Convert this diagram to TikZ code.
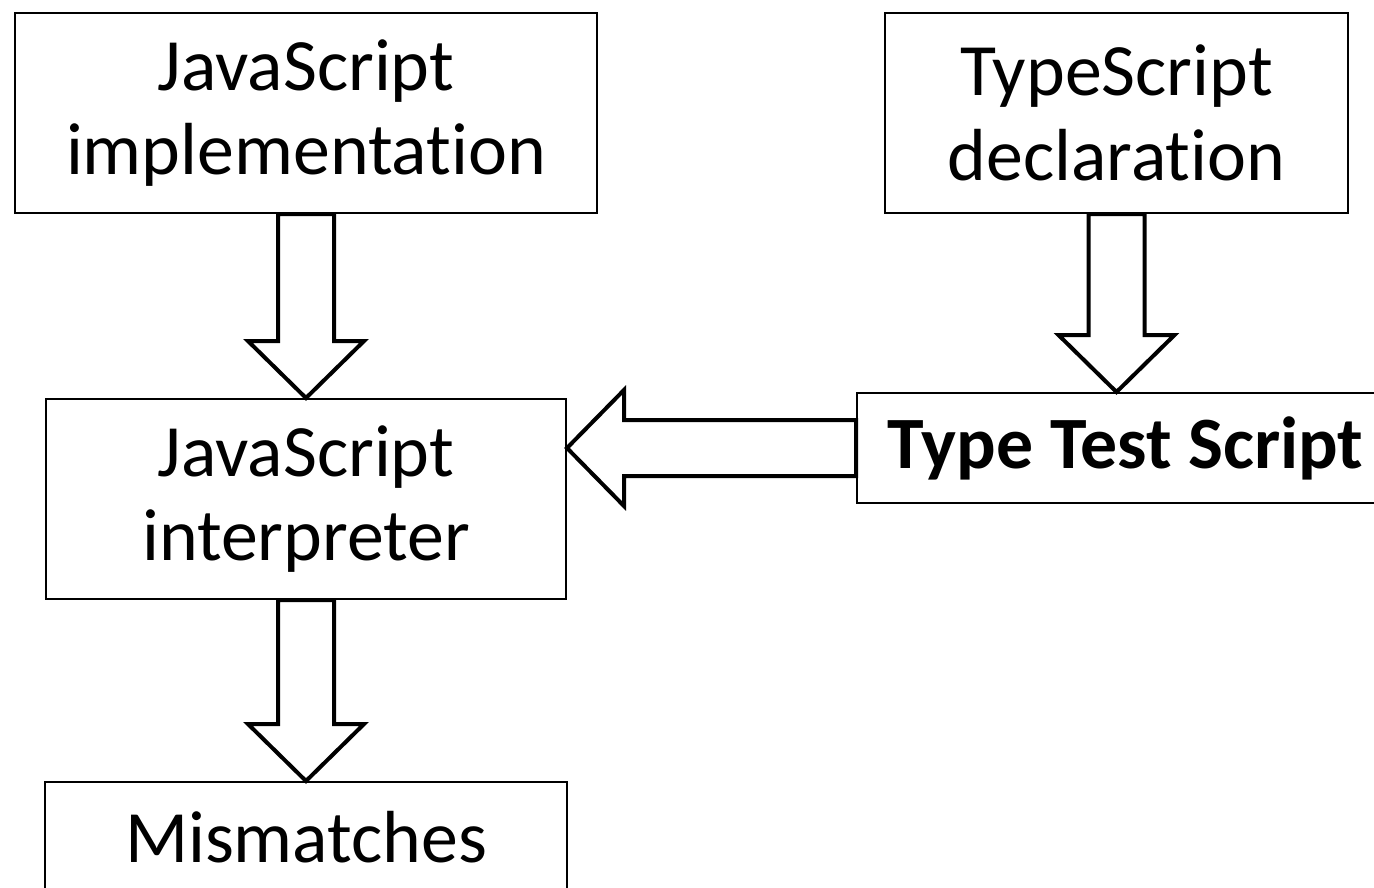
\documentclass[tikz,border=0pt]{standalone}
\usepackage{fontspec}
\setmainfont{Carlito}[Ligatures=NoCommon]
\usetikzlibrary{positioning,calc}
\begin{document}
\begin{tikzpicture}[every node/.style={inner sep=1pt}]
\tikzstyle{box}=[draw,line width=0.04cm,align=center,font=\fontsize{42}{48}\selectfont,minimum height=4cm]
\tikzstyle{bigarrow}=[draw,line width=0.08cm,fill=white,to path={
  ($(\tikztostart)!0.56cm!90:(\tikztotarget)$)
  -- ($($(\tikztotarget)!1.14cm!(\tikztostart)$)!0.56cm!-90:(\tikztostart)$)
  -- ($($(\tikztotarget)!1.14cm!(\tikztostart)$)!1.16cm!-90:(\tikztostart)$)
  -- (\tikztotarget)
  -- ($($(\tikztotarget)!1.14cm!(\tikztostart)$)!1.16cm!90:(\tikztostart)$)
  -- ($($(\tikztotarget)!1.14cm!(\tikztostart)$)!0.56cm!90:(\tikztostart)$)
  -- ($(\tikztostart)!0.56cm!-90:(\tikztotarget)$) -- cycle}]
\useasboundingbox (0,0) rectangle (27.48,-17.74);
\clip (0,0) rectangle (27.48,-17.74);

\node[box,minimum width=11.64cm](impl) at (6.12,-2.26){JavaScript\\implementation};
\node[box,minimum width=9.26cm,right=5.72cm of impl](decl){TypeScript\\declaration};

\node[box,minimum width=10.4cm,below=3.68cm of impl](interp){JavaScript\\interpreter};
\node[box,minimum width=10.74cm,minimum height=2.2cm,below=3.56cm of decl,xshift=0.18cm,
  font=\fontsize{42}{48}\selectfont\bfseries](tts){Type Test Script};

\node[box,minimum width=10.44cm,minimum height=2.2cm,below=3.62cm of interp](mism){Mismatches};

\draw[bigarrow](impl.south) to (interp.north);
\draw[bigarrow](decl.south) to (decl.south|-tts.north);
\draw[bigarrow](tts.west) to (interp.east|-tts.west);
\draw[bigarrow](interp.south) to (mism.north);
\end{tikzpicture}
\end{document}
